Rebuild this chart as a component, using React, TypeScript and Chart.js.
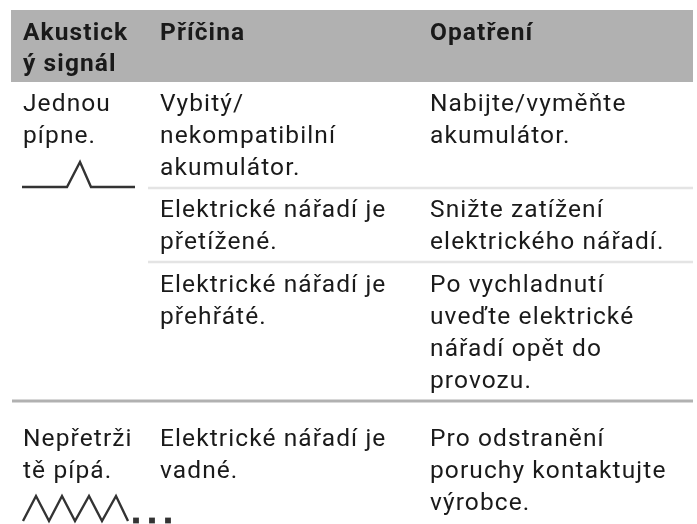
import React, { useEffect, useRef } from "react";
import { Chart, registerables } from "chart.js";

Chart.register(...registerables);

const WIDTH = 697;
const HEIGHT = 524;

const headerCells = [["Akustick", "ý signál"], ["Příčina"], ["Opatření"]];
const bodyCells = [
  ["Jednou", "pípne."],
  ["Vybitý/", "nekompatibilní", "akumulátor."],
  ["Nabijte/vyměňte", "akumulátor."],
  ["Elektrické nářadí je", "přetížené."],
  ["Snižte zatížení", "elektrického nářadí."],
  ["Elektrické nářadí je", "přehřáté."],
  ["Po vychladnutí", "uveďte elektrické", "nářadí opět do", "provozu."],
  ["Nepřetrži", "tě pípá."],
  ["Elektrické nářadí je", "vadné."],
  ["Pro odstranění", "poruchy kontaktujte", "výrobce."],
];

const columnX = [23, 160, 430];
const bodyColumn = [0, 1, 2, 1, 2, 1, 2, 0, 1, 2];
const bodyFirstBaseline = [111, 111, 111, 217, 217, 292, 292, 446, 446, 446];
const headerBaseline = 40;
const lineHeight = 32;

const singleBeepX = [22, 67, 80, 91, 135];
const singleBeepY = [187, 187, 162, 187, 187];
const repeatBeepX = [23, 36, 49, 62, 75, 89, 102, 116, 128];
const repeatBeepY = [521, 496, 521, 496, 521, 496, 521, 496, 521];
const dotsX = [136, 152, 168];
const dotsY = [520.5, 520.5, 520.5];

const FONT = "24.5px Roboto";
const BOLD = "bold 24.5px Roboto";

const textPlugin = {
  id: "tableText",
  afterDatasetsDraw(chart: any) {
    const { ctx, scales } = chart;
    const x = scales.x;
    const y = scales.y;
    ctx.save();
    ctx.textBaseline = "alphabetic";
    ctx.textAlign = "left";
    ctx.fillStyle = "#1a1a1a";
    ctx.letterSpacing = "1.1px";
    ctx.font = BOLD;
    headerCells.forEach((lines, c) => {
      lines.forEach((t, i) => {
        ctx.fillText(t, x.getPixelForValue(columnX[c]), y.getPixelForValue(headerBaseline + i * (lineHeight - 1)));
      });
    });
    ctx.font = FONT;
    bodyCells.forEach((lines, c) => {
      lines.forEach((t, i) => {
        ctx.fillText(t, x.getPixelForValue(columnX[bodyColumn[c]]), y.getPixelForValue(bodyFirstBaseline[c] + i * lineHeight));
      });
    });
    ctx.restore();
  },
};

function rule(x0: number, x1: number, yv: number, width: number, color: string) {
  return {
    type: "line" as const,
    data: [{ x: x0, y: yv }, { x: x1, y: yv }],
    borderColor: color,
    borderWidth: width,
    pointRadius: 0,
    borderCapStyle: "butt" as const,
    order: 5,
  };
}

function wave(xs: number[], ys: number[]) {
  return {
    type: "line" as const,
    data: xs.map((x, i) => ({ x, y: ys[i] })),
    borderColor: "#333333",
    borderWidth: 2.4,
    pointRadius: 0,
    tension: 0,
    order: 1,
  };
}

export default function App() {
  const ref = useRef<HTMLCanvasElement | null>(null);
  useEffect(() => {
    document.body.style.margin = "0";
    document.body.style.background = "#ffffff";
    const chart = new Chart(ref.current!, {
      type: "line",
      data: {
        datasets: [
          rule(11, 693, 46, 72, "#b1b1b1"),
          rule(148, 693, 188, 2.5, "#e4e4e4"),
          rule(148, 693, 262, 2.5, "#e4e4e4"),
          rule(12, 693, 401, 3, "#b1b1b1"),
          wave(singleBeepX, singleBeepY),
          wave(repeatBeepX, repeatBeepY),
          {
            type: "scatter" as const,
            data: dotsX.map((x, i) => ({ x, y: dotsY[i] })),
            pointStyle: "rect",
            pointRadius: 4.1,
            pointBackgroundColor: "#333333",
            pointBorderWidth: 0,
            order: 1,
          },
        ] as any,
      },
      options: {
        animation: false,
        responsive: false,
        layout: { padding: 0, autoPadding: false },
        plugins: { legend: { display: false }, tooltip: { enabled: false } },
        scales: {
          x: { type: "linear", min: 0, max: WIDTH, display: false },
          y: { type: "linear", min: 0, max: HEIGHT, reverse: true, display: false },
        },
      },
      plugins: [textPlugin],
    });
    return () => chart.destroy();
  }, []);
  return <canvas ref={ref} width={WIDTH} height={HEIGHT} style={{ display: "block" }} />;
}
